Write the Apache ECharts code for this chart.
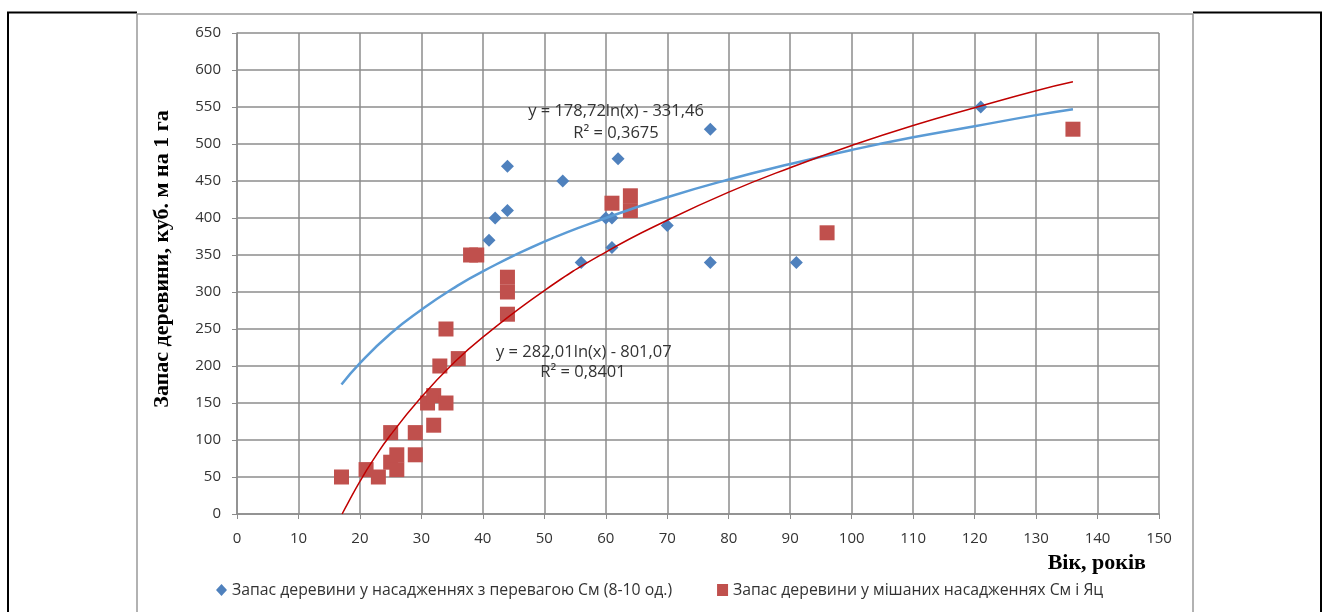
<!DOCTYPE html>
<html><head><meta charset="utf-8">
<script src="https://cdn.jsdelivr.net/npm/echarts@6/dist/echarts.min.js"></script>
<style>html,body{margin:0;padding:0;background:#fff}#c{width:1327px;height:612px}</style>
</head><body><div id="c"></div>
<script>
// Blue series: stock in stands with spruce dominance (age, volume)
const blueAge = [41, 42, 44, 44, 53, 56, 60, 61, 61, 62, 70, 77, 77, 91, 121];
const blueVol = [370, 400, 410, 470, 450, 340, 400, 400, 360, 480, 390, 520, 340, 340, 550];
// Red series: stock in mixed spruce-fir stands
const redAge = [17, 21, 23, 25, 25, 26, 26, 29, 29, 31, 32, 32, 33, 34, 34, 36, 38, 39, 44, 44, 44, 61, 64, 64, 96, 136];
const redVol = [50, 60, 50, 110, 70, 80, 60, 110, 80, 150, 160, 120, 200, 150, 250, 210, 350, 350, 320, 300, 270, 420, 430, 410, 380, 520];
// Trend lines
const blueTrendX = [17, 20, 25, 30, 35, 40, 50, 60, 70, 80, 90, 100, 110, 120, 130, 136];
const blueTrendY = [175, 204, 244, 276, 304, 328, 368, 400, 428, 452, 473, 492, 509, 524, 539, 547];
const redTrendX = [17.1, 18, 20, 22, 25, 30, 35, 40, 50, 60, 70, 80, 90, 100, 110, 120, 130, 136];
const redTrendY = [0, 14, 44, 71, 107, 158, 202, 239, 302, 354, 397, 435, 468, 498, 525, 549, 572, 584];
const xTicks = {min: 0, max: 150, interval: 10};
const yTicks = {min: 0, max: 650, interval: 50};
const blueName = 'Запас деревини у насадженнях з перевагою См (8-10 од.)';
const redName = 'Запас деревини у мішаних насадженнях См і Яц';
const blueEq = ['y = 178,72ln(x) - 331,46', 'R² = 0,3675'];
const redEq = ['y = 282,01ln(x) - 801,07', 'R² = 0,8401'];
const xTitle = 'Вік, років';
const yTitle = 'Запас деревини, куб. м на 1 га';

const zip = (a, b) => a.map((v, i) => [v, b[i]]);
const chart = echarts.init(document.getElementById('c'));
const gridCol = '#8c8c8c';
const lblFont = '"Open Sans", Roboto, sans-serif';
const serif = '"Liberation Serif", "Times New Roman", serif';
const txt = (x, y, t, align) => ({type: 'text', x: x, y: y, style: {text: t, font: '16.5px ' + lblFont, fill: '#333', align: align || 'center', verticalAlign: 'middle'}, z: 100});
chart.setOption({
  animation: false,
  backgroundColor: '#fff',
  grid: {left: 237, top: 33, right: 168, bottom: 98, containLabel: false},
  xAxis: {
    type: 'value', min: xTicks.min, max: xTicks.max, interval: xTicks.interval,
    axisLine: {show: true, lineStyle: {color: gridCol, width: 1.5}},
    axisTick: {show: true, length: 5, lineStyle: {color: gridCol}},
    axisLabel: {fontFamily: lblFont, fontSize: 15, color: '#333', margin: 17},
    splitLine: {show: true, lineStyle: {color: gridCol, width: 1.5}}
  },
  yAxis: {
    type: 'value', min: yTicks.min, max: yTicks.max, interval: yTicks.interval,
    axisLine: {show: true, lineStyle: {color: gridCol, width: 1.5}},
    axisTick: {show: true, length: 5, lineStyle: {color: gridCol}},
    axisLabel: {fontFamily: lblFont, fontSize: 15, color: '#333', margin: 16},
    splitLine: {show: true, lineStyle: {color: gridCol, width: 1.5}}
  },
  legend: {
    left: 211, top: 577, itemGap: 45, itemWidth: 11, itemHeight: 12,
    textStyle: {fontFamily: lblFont, fontSize: 15.8, color: '#333'},
    data: [{name: blueName, icon: 'diamond'}, {name: redName, icon: 'rect'}]
  },
  series: [
    {name: redName, type: 'scatter', symbol: 'rect', symbolSize: 15, data: zip(redAge, redVol), itemStyle: {color: '#C0504D', opacity: 1}, z: 2},
    {name: blueName, type: 'scatter', symbol: 'diamond', symbolSize: 13, data: zip(blueAge, blueVol), itemStyle: {color: '#4F81BD', opacity: 1}, z: 3},
    {name: 'blueTrend', type: 'line', smooth: true, showSymbol: false, data: zip(blueTrendX, blueTrendY), lineStyle: {color: '#5B9BD5', width: 2.5}, z: 4, silent: true},
    {name: 'redTrend', type: 'line', smooth: true, showSymbol: false, data: zip(redTrendX, redTrendY), lineStyle: {color: '#C00000', width: 1.5}, z: 5, silent: true}
  ],
  graphic: [
    {type: 'polyline', shape: {points: [[8, 612], [8, 12.5], [137, 12.5]]}, style: {stroke: '#000', lineWidth: 2, fill: null}, z: 50},
    {type: 'polyline', shape: {points: [[1193, 12.5], [1321, 12.5], [1321, 612]]}, style: {stroke: '#000', lineWidth: 2, fill: null}, z: 50},
    {type: 'polyline', shape: {points: [[137, 612], [137, 14], [1193, 14], [1193, 612]]}, style: {stroke: '#999', lineWidth: 1.5, fill: null}, z: 50},
    txt(616, 111, blueEq[0]), txt(616, 133, blueEq[1]),
    txt(496, 352, redEq[0], 'left'), txt(583, 372, redEq[1]),
    {type: 'text', x: 1146, y: 563, style: {text: xTitle, font: 'bold 22px ' + serif, fill: '#000', align: 'right', verticalAlign: 'middle'}, z: 100},
    {type: 'text', x: 162, y: 259, rotation: Math.PI / 2, style: {text: yTitle, font: 'bold 22px ' + serif, fill: '#000', align: 'center', verticalAlign: 'middle'}, z: 100}
  ]
});
</script></body></html>
